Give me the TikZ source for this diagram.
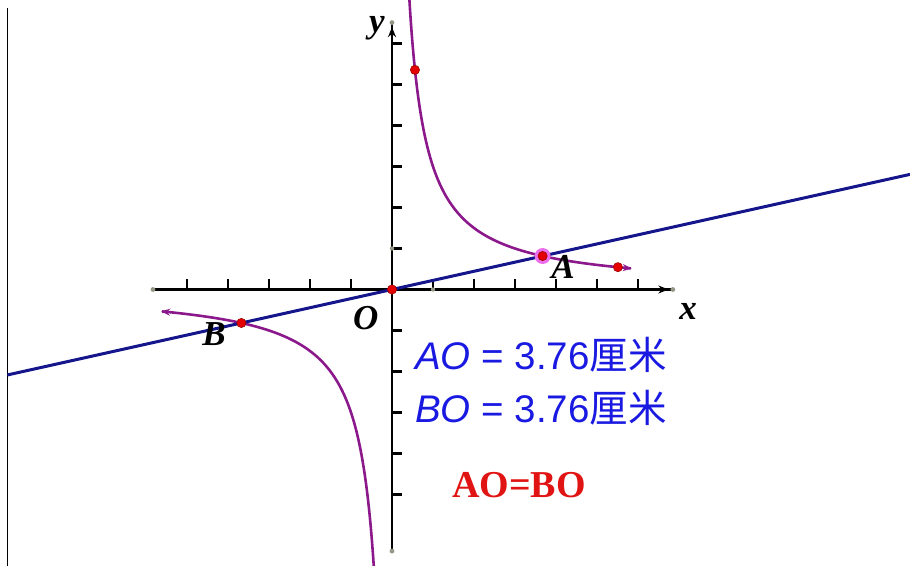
\documentclass[tikz,border=0pt]{standalone}
\usepackage{fontspec}
\setmainfont{Liberation Serif}
\setsansfont{Liberation Sans}
\newfontfamily\cjk{Noto Sans CJK SC}
\usetikzlibrary{arrows.meta}
\definecolor{navyline}{RGB}{22,22,140}
\definecolor{curvec}{RGB}{140,25,140}
\definecolor{ptred}{RGB}{228,0,0}
\definecolor{txtblue}{RGB}{25,25,225}
\definecolor{txtred}{RGB}{225,20,20}
\definecolor{dotgray}{RGB}{150,150,135}
\definecolor{halo}{RGB}{235,110,235}
\tikzset{
  axisline/.style={black, line width=2.5pt},
  tickmark/.style={black, line width=2.5pt},
  hyper/.style={curvec, line width=2.6pt},
  lineblue/.style={navyline, line width=3pt},
  reddot/.style={fill=ptred, draw=ptred!70!black, line width=0.6pt},
  graydot/.style={fill=dotgray},
  ptlabel/.style={font=\fontsize{35}{40}\selectfont\bfseries\itshape, inner sep=0pt},
  bluetext/.style={font=\fontsize{38.5}{42}\selectfont\sffamily, text=txtblue, inner sep=0pt, anchor=base west},
  redtext/.style={font=\fontsize{38}{42}\selectfont\bfseries, text=txtred, inner sep=0pt, anchor=base west}
}
\begin{document}
\begin{tikzpicture}[x=41pt,y=41pt]
\useasboundingbox (-9.5610,-6.7195) rectangle (12.6341,7.0610);
\clip (-9.5610,-6.7195) rectangle (12.6341,7.0610);
% left border line
\draw[black, line width=1.5pt] (-9.383,6.866) -- (-9.383,-6.75);
% coordinates
\coordinate (O) at (0,0);
\coordinate (A) at (3.674,0.8165);
\coordinate (B) at (-3.674,-0.8165);
\coordinate (P1) at (0.56,5.357);
\coordinate (P2) at (5.51,0.5445);
\coordinate (xl) at (-5.83,0);
\coordinate (xr) at (6.85,0);
\coordinate (xa) at (6.74,0);
\coordinate (yt) at (0,6.51);
\coordinate (yb) at (0,-6.38);
\coordinate (ya) at (0,6.40);
\coordinate (L1) at (-9.383,-2.0851);
\coordinate (L2) at (12.634,2.8076);
% axes
\draw[axisline] (xl) -- (xr);
\draw[axisline,-{Stealth[length=10pt,width=8pt]}] (6.3,0) -- (xa);
\draw[axisline] (yb) -- (yt);
\draw[axisline,-{Stealth[length=10pt,width=8pt]}] (0,6.0) -- (ya);
\foreach \i in {-5,...,-1,1,2,...,6} \draw[tickmark] (\i,0) -- (\i,0.25);
\foreach \j in {-5,...,-1,1,2,...,6} \draw[tickmark] (0,\j) -- (0.25,\j);
\foreach \p in {xl,xr,yt,yb} \fill[graydot] (\p) circle (2.4pt);
\fill[graydot] (1,0) circle (2.2pt);
\fill[graydot] (0,1) circle (2.2pt);
% hyperbola
\draw[hyper,-{Stealth[length=9pt,width=7pt]}] plot[domain=0.41:5.85, samples=250, smooth] (\x,{3/\x});
\draw[hyper,{Stealth[length=9pt,width=7pt]}-] plot[domain=-5.63:-0.42, samples=250, smooth] (\x,{3/\x});
% line
\draw[lineblue] (L1) -- (L2);
% points
\fill[halo] (A) circle (8pt);
\foreach \p in {O,A,B,P1,P2} \filldraw[reddot] (\p) circle (4.6pt);
% labels
\node[ptlabel] (ly) at (-0.37,6.38) {y};
\node[ptlabel] (lx) at (7.22,-0.53) {x};
\node[ptlabel] (lO) at (-0.64,-0.70) {O};
\node[ptlabel] (lA) at (4.17,0.55) {A};
\node[ptlabel] (lB) at (-4.34,-1.085) {B};
% texts
\node[bluetext] (t1) at (0.561,-1.939) {\itshape AO\upshape{} = 3.76{\cjk 厘米}};
\node[bluetext] (t2) at (0.561,-3.256) {\itshape BO\upshape{} = 3.76{\cjk 厘米}};
\node[redtext] (t3) at (1.463,-5.061) {AO=BO};
\end{tikzpicture}
\end{document}
